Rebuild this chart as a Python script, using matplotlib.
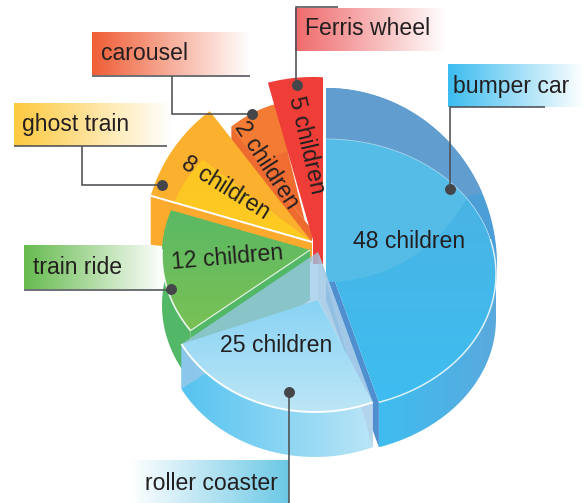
import numpy as np
import matplotlib
matplotlib.use("Agg")
import matplotlib.pyplot as plt
from matplotlib.path import Path
from matplotlib.patches import PathPatch, Polygon
from matplotlib.colors import LinearSegmentedColormap, to_rgba

plt.rcParams['font.family'] = ['Liberation Sans', 'DejaVu Sans']

# ---- data
rides = ['bumper car', 'roller coaster', 'train ride', 'ghost train', 'carousel', 'Ferris wheel']
children = [48, 25, 12, 8, 2, 5]
# angle each slice visibly occupies in the drawing (clockwise, from 12 o'clock)
drawn_sweep_deg = [160, 76, 50, 36, 22, 16]

INK = '#231f20'
LINE = '#4d4f53'

fig = plt.figure(figsize=(5.84, 5.03), dpi=100)
ax = fig.add_axes([0, 0, 1, 1])
ax.axis('off')

edges = np.concatenate([[0], np.cumsum(drawn_sweep_deg)])
spans = {r: (edges[i], edges[i + 1]) for i, r in enumerate(rides)}


def ray_t(apex, theta, c, rx, ry):
    d = np.array([np.sin(np.radians(theta)), -np.cos(np.radians(theta))])
    a = (np.array(apex, float) - np.array(c, float)) / [rx, ry]
    b = d / [rx, ry]
    A, B, C = b @ b, 2 * a @ b, a @ a - 1
    s = (-B + np.sqrt(B * B - 4 * A * C)) / (2 * A)
    p = np.array(apex, float) + s * d
    return np.degrees(np.arctan2((p[0] - c[0]) / rx, (c[1] - p[1]) / ry)) % 360


def arc(c, rx, ry, t0, t1, n=80):
    t = np.radians(np.linspace(t0, t1, n))
    return np.column_stack([c[0] + rx * np.sin(t), c[1] - ry * np.cos(t)])


def arc_between(apex0, th0, apex1, th1, c, rx, ry):
    t0 = ray_t(apex0, th0, c, rx, ry)
    t1 = ray_t(apex1, th1, c, rx, ry)
    if t1 < t0:
        t1 += 360
    return arc(c, rx, ry, t0, t1)


def poly(pts, color, z, alpha=1.0):
    ax.add_patch(Polygon(np.asarray(pts), closed=True, fc=color, ec='none', alpha=alpha, zorder=z))


def grad(pts, stops, z, vertical=True, alpha=1.0):
    pts = np.asarray(pts)
    x0, y0 = pts.min(axis=0)
    x1, y1 = pts.max(axis=0)
    cmap = LinearSegmentedColormap.from_list('g', [to_rgba(s) for s in stops])
    g = np.linspace(0, 1, 256)
    g = g[:, None] if vertical else g[None, :]
    im = ax.imshow(g, cmap=cmap, extent=(x0, x1, y1, y0), aspect='auto', zorder=z,
                   alpha=alpha, interpolation='bilinear')
    im.set_clip_path(PathPatch(Path(np.vstack([pts, pts[0]])), transform=ax.transData))


def stroke(pts, z, lw=1.0, color='white', alpha=1.0):
    pts = np.asarray(pts)
    ax.plot(pts[:, 0], pts[:, 1], color=color, lw=lw, alpha=alpha, zorder=z,
            solid_capstyle='butt', solid_joinstyle='miter')


# ---- bumper car
a0, a1 = spans['bumper car']
apex = (326, 257)
outer_c, face_c = (326, 265), (326, 274)
fr, fry = 170, 135
depth = 45
outer = arc_between(apex, a0, apex, 100, outer_c, 171, 177)
face_arc = arc_between(apex, a0, apex, a1, face_c, fr, fry)
t_end = ray_t(apex, a1, face_c, fr, fry)
lower = arc(face_c, fr, fry, 90, t_end)
poly([apex, *outer, *face_arc[::-1]], '#4c9fd6', 20)
grad(np.vstack([lower, lower[::-1] + [0, depth]]), ['#3fbdf0', '#5aa9dd'], 21, vertical=False)
poly([(326, 257), lower[-1], lower[-1] + [0, depth], (326, 300)], '#4f8fcf', 21)
grad(np.vstack([[apex], face_arc]), ['#4cb1e1', '#3ebdf0'], 22)
band_out = arc(outer_c, 171, 177, 0, 66)
band_in = arc(face_c, fr, fry, 0, 55)
poly(np.vstack([band_out, band_in[::-1]]), '#629dcf', 23)
sheen_c = (326, 122)
poly(np.vstack([arc(face_c, fr, fry, 0, 55), arc(sheen_c, 160, 160, 118, 180), [(326, 257)]]),
     '#55bce7', 23)
stroke(arc(face_c, fr, fry, 0, 75), 24, 0.6, alpha=0.45)
stroke(arc(face_c, fr, fry, 75, t_end), 24, 1.1, alpha=0.8)

# ---- Ferris wheel
a0, a1 = spans['Ferris wheel']
ap0, ap1 = (313, 240), (323, 255)
top = arc_between(ap0, a0, ap1, a1, (313, 258), 181, 181)
poly([ap0, *top, (323, 264), (313, 264)], '#ef3d38', 10)

# ---- carousel
a0, a1 = spans['carousel']
apex = (312, 230)
top = arc_between(apex, a0, apex, a1, apex, 131, 131)
inner = arc_between(apex, a0, apex, a1, apex, 85, 82)
poly([apex, *top, (312, 250)], '#f06c30', 9)
poly([top[0], top[0] + [0, 14], (312, 250), apex], '#ee6b30', 9)
poly(np.vstack([top, inner[::-1]]), '#f47b34', 9.5)

# ---- ghost train
a0, a1 = spans['ghost train']
apex = (312, 242)
top = arc_between(apex, a0, apex, a1, apex, 168, 165)
inner = arc_between(apex, a0, apex, a1 - 15, apex, 145, 125)
poly([apex, *top], '#fbb02e', 13)
poly([top[0], top[0] + [0, 49], (312, 262), apex], '#fbaa2d', 13)
grad(np.vstack([[apex], inner]), ['#fdc624', '#fdcb22'], 14)
stroke([top[0], apex], 15, 1.4)

# ---- train ride
a0, a1 = spans['train ride']
apex = (310, 250)
c, rx, ry = (315, 255), 153, 130
top = arc_between(apex, a0, apex, a1, c, rx, ry)
wall = 50
poly(np.vstack([top, top[::-1] + [0, wall]]), '#52b767', 16)
poly([top[0], top[0] + [0, wall], (310, 300), apex], '#52b767', 16)
grad(np.vstack([[apex], top]), ['#5bb964', '#7ac155'], 17)
stroke(top[:55], 18, 1.2, alpha=0.85)
stroke([top[0], apex], 18, 0.9, alpha=0.75)

# ---- roller coaster (translucent, sits in front)
a0, a1 = spans['roller coaster']
back = (318, 252)
front = (318, 300)
c, rx, ry = (315, 282), 152, 130
top = arc_between(back, a0, back, a1, c, rx, ry)
drop = 45
grad(np.vstack([top, top[::-1] + [0, drop]]), ['#55c3f0', '#bae5f6'], 30, vertical=False)
right_end, left_end = top[0], top[-1]
poly([back, left_end, left_end + [0, drop], front], '#9cc9ea', 31, alpha=0.75)
poly([back, right_end, right_end + [0, drop]], '#b4d3ea', 31, alpha=0.9)
poly([back, right_end, front], '#a0c8e6', 31, alpha=0.85)
grad(np.vstack([[front], top]), ['#88d3f4', '#bde6f6'], 32)
stroke(top, 33, 1.4, alpha=0.95)

# ---- callout tags
tags = {
    'bumper car':     (448, 64, 584, 107, '#3dbcf0', 453, 86, False),
    'roller coaster': (130, 460, 289, 503, '#6cc8e5', 145, 484, True),
    'train ride':     (24, 245, 165, 289, '#66bb4f', 33, 268, False),
    'ghost train':    (14, 103, 172, 146, '#fdc93f', 22, 124, False),
    'carousel':       (92, 32, 250, 75, '#ef5d36', 101, 53, False),
    'Ferris wheel':   (295, 8, 446, 51, '#ef6a6b', 305, 28, False),
}
for name, (x0, y0, x1, y1, col, tx, ty, rev) in tags.items():
    stops = ['#ffffff', col] if rev else [col, '#ffffff']
    grad([(x0, y0), (x1, y0), (x1, y1), (x0, y1)], stops, 2, vertical=False)
    ax.text(tx, ty, name, fontsize=16.6, color=INK, ha='left', va='center', zorder=3)

leaders = [
    [(545, 107), (450, 107), (450, 189)],
    [(289, 503), (289, 392)],
    [(24, 289.5), (171, 289.5)],
    [(14, 146), (167, 146)],
    [(82, 146), (82, 185), (162, 185)],
    [(92, 76), (250, 76)],
    [(172, 76), (172, 114), (252, 114)],
    [(338, 7), (296, 7), (296, 85)],
]
for seg in leaders:
    stroke(seg, 40, 1.15, color=LINE)
dots = [(450, 189), (289, 392), (171, 289), (162, 185), (252, 114), (297, 85)]
ax.scatter(*zip(*dots), s=62, color='#454649', linewidths=0, zorder=41)

# ---- slice labels
label_at = {
    'bumper car': (409, 241, 0), 'roller coaster': (276, 345, 0), 'train ride': (227, 258, 5),
    'ghost train': (226, 188, -32), 'carousel': (267, 165, -57), 'Ferris wheel': (307, 145, -77),
}
for name, n in zip(rides, children):
    x, y, rot = label_at[name]
    ax.text(x, y, f'{n} children', fontsize=16.6, color=INK, ha='center', va='center',
            rotation=rot, rotation_mode='anchor', zorder=45)

ax.set_xlim(0, 584)
ax.set_ylim(503, 0)
fig.savefig('out.png', dpi=100, facecolor='white')
